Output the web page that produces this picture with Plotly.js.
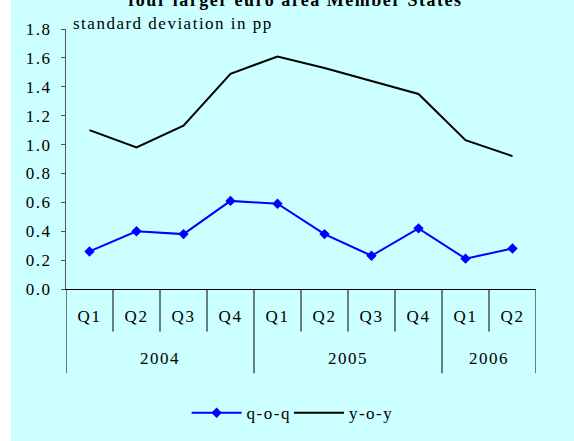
<!DOCTYPE html>
<html>
<head>
<meta charset="utf-8">
<script src="https://cdn.plot.ly/plotly-3.0.1.min.js"></script>
<style>
  html, body { margin: 0; padding: 0; background: #ffffff; }
  #chart { position: absolute; left: 11px; top: 0; width: 563px; height: 441px; }
  #chart svg text { letter-spacing: 1.5px; }
</style>
</head>
<body>
<div id="chart"></div>
<script>
// ---- data ----
const years = ["2004", "2004", "2004", "2004", "2005", "2005", "2005", "2005", "2006", "2006"];
const quarters = ["Q1", "Q2", "Q3", "Q4", "Q1", "Q2", "Q3", "Q4", "Q1", "Q2"];
const qoq = [0.26, 0.40, 0.38, 0.61, 0.59, 0.38, 0.23, 0.42, 0.21, 0.28];
const yoy = [1.10, 0.98, 1.13, 1.49, 1.61, 1.53, 1.44, 1.35, 1.03, 0.92];
const seriesNames = ["q-o-q", "y-o-y"];
const titleText = "four larger euro area Member States";
const unitText = "standard deviation in pp";

// ---- build ----
const cats = years.map((y, i) => y + " " + quarters[i]);
const idx = cats.map((c, i) => i);
const FONT = "Liberation Serif, Times New Roman, serif";
const FS = 17;
const BG = "#CCFFFF";

const traces = [
  {
    x: idx, y: qoq, name: seriesNames[0], type: "scatter", mode: "lines+markers",
    line: { color: "#0000FF", width: 2 },
    marker: { symbol: "diamond", size: 8, color: "#0000FF" }
  },
  {
    x: idx, y: yoy, name: seriesNames[1], type: "scatter", mode: "lines",
    line: { color: "#000000", width: 2 }
  }
];

// year groups
const groups = [];
years.forEach((y, i) => {
  if (!groups.length || groups[groups.length - 1].year !== y) groups.push({ year: y, start: i, end: i });
  else groups[groups.length - 1].end = i;
});

const shapes = [];
for (let i = 0; i <= idx.length; i++) {
  const isYearBoundary = groups.some(g => g.start === i) || i === idx.length;
  shapes.push({
    type: "line", xref: "x", yref: "paper",
    x0: i - 0.5, x1: i - 0.5, y0: 0, y1: isYearBoundary ? -0.324 : -0.164,
    line: { color: "#000000", width: 1 }
  });
}

const annotations = groups.map(g => ({
  x: (g.start + g.end) / 2, xref: "x", y: -0.266, yref: "paper",
  text: g.year, showarrow: false, yanchor: "middle", xanchor: "center",
  font: { family: FONT, size: FS, color: "#000" }
}));
annotations.push({
  x: 0.2277, xref: "paper", y: 1.02, yref: "paper",
  text: unitText, showarrow: false, xanchor: "center", yanchor: "middle",
  font: { family: FONT, size: FS, color: "#000" }
});

const layout = {
  width: 563, height: 441,
  paper_bgcolor: BG, plot_bgcolor: BG,
  margin: { l: 55, r: 38, t: 28.5, b: 152, pad: 0, autoexpand: false },
  font: { family: FONT, size: FS, color: "#000" },
  title: {
    text: "<b>" + titleText + "</b>",
    font: { family: FONT, size: 18, color: "#000" },
    x: 0.505, xanchor: "center", y: 1, yref: "container", yanchor: "middle"
  },
  showlegend: true,
  legend: {
    orientation: "h", xref: "container", x: 0.494, xanchor: "center",
    yref: "container", y: 0.063, yanchor: "middle",
    bgcolor: "rgba(0,0,0,0)", font: { family: FONT, size: FS, color: "#000" },
    itemwidth: 50
  },
  xaxis: {
    type: "linear", range: [-0.5, idx.length - 0.5],
    tickmode: "array", tickvals: idx, ticktext: quarters,
    ticks: "", showgrid: false, zeroline: false,
    showline: true, linecolor: "#000", linewidth: 1,
    ticklabelstandoff: 12,
    tickfont: { family: FONT, size: FS, color: "#000" }
  },
  yaxis: {
    range: [0, 1.8], dtick: 0.2, tick0: 0, tickformat: ".1f",
    ticks: "outside", ticklen: 4, tickcolor: "#555", tickwidth: 1,
    showline: true, linecolor: "#555", linewidth: 1,
    showgrid: false, zeroline: false,
    ticklabelstandoff: 6,
    tickfont: { family: FONT, size: FS, color: "#000" }
  },
  shapes: shapes,
  annotations: annotations
};

Plotly.newPlot("chart", traces, layout, { staticPlot: true, displayModeBar: false });
</script>
</body>
</html>
